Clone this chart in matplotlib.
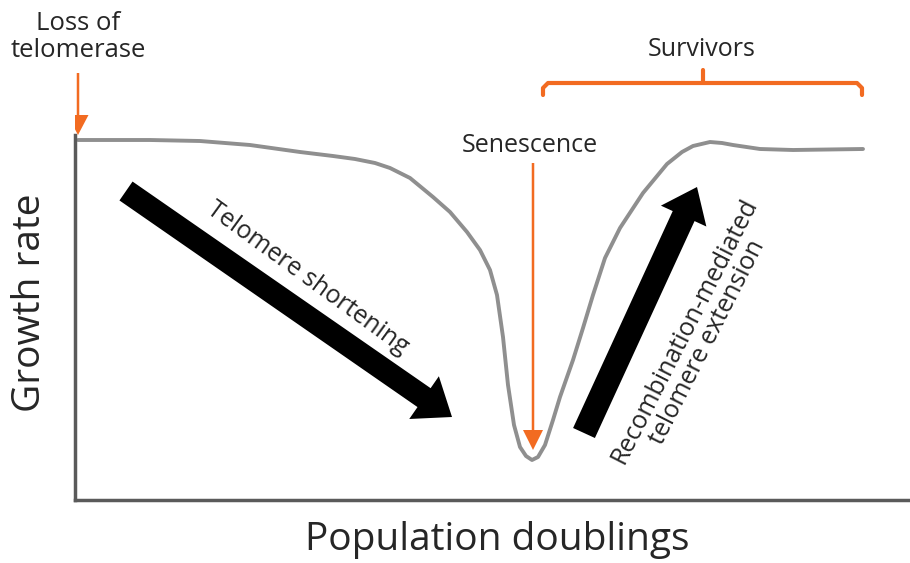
import matplotlib.pyplot as plt
from matplotlib.patches import FancyArrow

# growth curve (x = population doublings, y = growth rate, arbitrary units)
doublings = [3, 75, 125, 175, 225, 258, 280, 300, 315, 335, 358, 375, 392, 405, 415, 422, 428,
             433, 439, 445, 451, 457, 463, 470, 478, 485, 498, 508, 518, 530, 545, 568,
             592, 607, 618, 635, 647, 658, 685, 718, 788]
growth = [360, 360, 359, 355, 348, 344, 341, 337, 332, 322, 303, 288, 268, 250, 230, 205, 163,
          115, 75, 53, 44, 40, 43, 55, 80, 103, 140, 172, 205, 242, 272, 307,
          336, 348, 354, 358, 357, 355, 351, 350, 351]

text_color = '#262626'
orange = '#F26B21'
font = 'Open Sans'

fig = plt.figure(figsize=(9.1, 5.63), dpi=100)
ax = fig.add_axes([75 / 910, 63 / 563, 835 / 910, 500 / 563])
ax.set_xlim(0, 835)
ax.set_ylim(0, 500)
ax.set_xticks([])
ax.set_yticks([])
for s in ['top', 'right']:
    ax.spines[s].set_visible(False)
for s in ['left', 'bottom']:
    ax.spines[s].set_color('#5a5a5a')
    ax.spines[s].set_linewidth(2.5)
ax.spines['left'].set_bounds(0, 365)

ax.plot(doublings, growth, color='#8f8f8f', lw=2.8, solid_capstyle='round',
        solid_joinstyle='round', zorder=2)

# orange markers
ax.add_patch(FancyArrow(3, 427, 0, -62, width=2.5, head_width=21, head_length=20,
                        length_includes_head=True, color=orange, lw=0, zorder=4))
ax.add_patch(FancyArrow(458, 337, 0, -287, width=2.5, head_width=20, head_length=20,
                        length_includes_head=True, color=orange, lw=0, zorder=4))
bx = [468, 468, 473, 782, 787, 787]
by = [405, 412, 417, 417, 412, 405]
ax.plot(bx, by, color=orange, lw=3, solid_capstyle='round', solid_joinstyle='round',
        clip_on=False)
ax.plot([628, 628], [417, 430], color=orange, lw=3, solid_capstyle='round', clip_on=False)

# black arrows
ax.add_patch(FancyArrow(51, 309, 326, -226, width=23, head_width=52, head_length=34,
                        length_includes_head=True, color='black', lw=0, zorder=3))
ax.add_patch(FancyArrow(509, 67, 113, 246, width=24, head_width=50, head_length=32,
                        length_includes_head=True, color='black', lw=0, zorder=3))

# labels
kw = dict(color=text_color, family=font, ha='center', va='center')
ax.text(3, 463, 'Loss of\ntelomerase', fontsize=18.5, linespacing=1.15, clip_on=False, **kw)
ax.text(455, 354, 'Senescence', fontsize=18, **kw)
ax.text(627, 451, 'Survivors', fontsize=18, **kw)
ax.text(233, 222, 'Telomere shortening', fontsize=18, rotation=-36, **kw)
ax.text(621, 163, 'Recombination-mediated\ntelomere extension', fontsize=18,
        rotation=63, linespacing=1.0, **kw)
fig.text(30 / 910, 1 - 303 / 563, 'Growth rate', fontsize=28, rotation=90, **kw)
fig.text(497 / 910, 1 - 540 / 563, 'Population doublings', fontsize=28, **kw)

fig.savefig('out.png', dpi=100)
